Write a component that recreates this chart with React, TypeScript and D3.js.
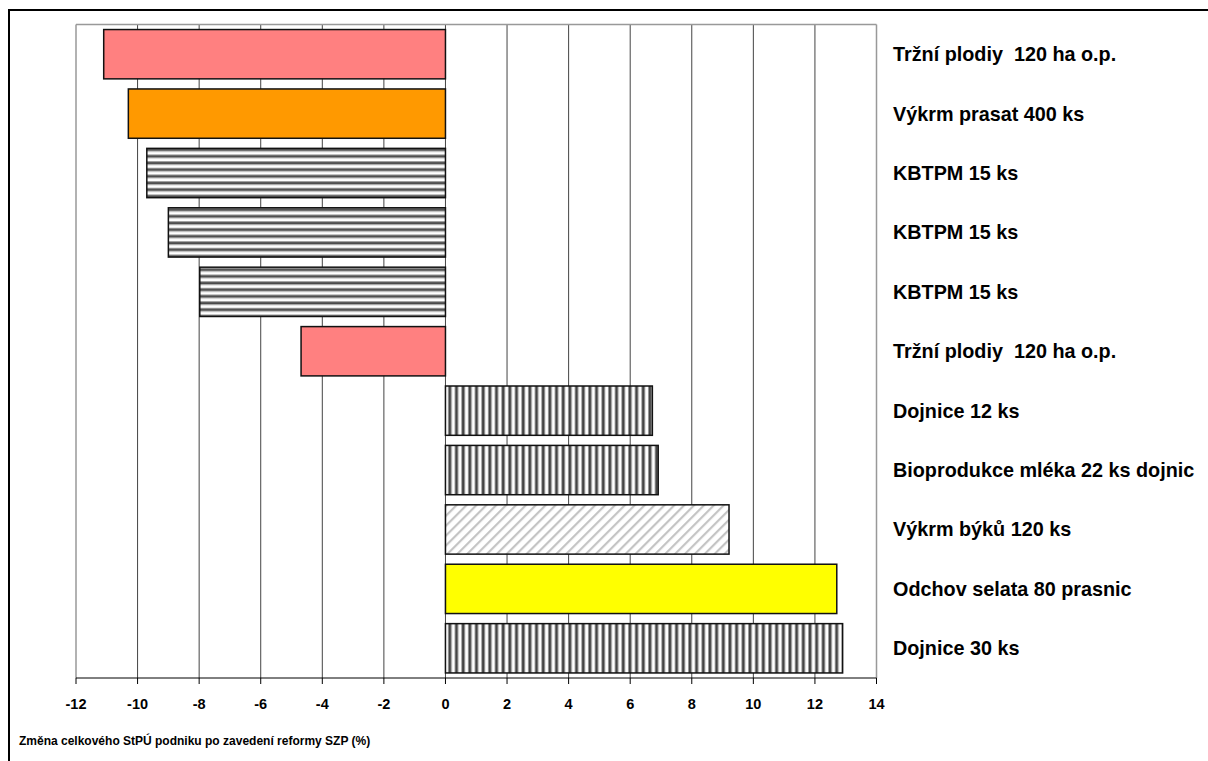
import React from "react";
import * as d3 from "d3";

const categories = [
  "Tržní plodiy  120 ha o.p.",
  "Výkrm prasat 400 ks",
  "KBTPM 15 ks",
  "KBTPM 15 ks",
  "KBTPM 15 ks",
  "Tržní plodiy  120 ha o.p.",
  "Dojnice 12 ks",
  "Bioprodukce mléka 22 ks dojnic",
  "Výkrm býků 120 ks",
  "Odchov selata 80 prasnic",
  "Dojnice 30 ks",
];
const values = [-11.1, -10.3, -9.7, -9.0, -7.98, -4.69, 6.72, 6.91, 9.21, 12.71, 12.9];
const fills = [
  "#FF8080",
  "#FF9900",
  "url(#hstripe)",
  "url(#hstripe)",
  "url(#hstripe)",
  "#FF8080",
  "url(#vstripe)",
  "url(#vstripe)",
  "url(#diag)",
  "#FFFF00",
  "url(#vstripe)",
];
const xTicks = [-12, -10, -8, -6, -4, -2, 0, 2, 4, 6, 8, 10, 12, 14];
const axisTitle = "Změna celkového StPÚ podniku po zavedení reformy SZP (%)";

export default function App() {
  const W = 1208;
  const H = 761;
  const left = 76;
  const right = 876.5;
  const top = 24.5;
  const bottom = 678;
  const x = d3.scaleLinear().domain([-12, 14]).range([left, right]);
  const y = d3
    .scaleBand<number>()
    .domain(d3.range(categories.length))
    .range([top, bottom])
    .paddingInner(0.17)
    .paddingOuter(0.085);
  const font = "'Liberation Sans', Arial, sans-serif";
  return (
    <svg
      width={W}
      height={H}
      style={{ position: "absolute", left: 0, top: 0, background: "#fff" }}
      fontFamily={font}
    >
      <defs>
        <pattern id="hstripe" patternUnits="userSpaceOnUse" width={8} height={6.67}>
          <rect width={8} height={6.67} fill="#fff" />
          <rect y={1} width={8} height={1} fill="#999" />
          <rect y={2} width={8} height={2.2} fill="#4a4a4a" />
          <rect y={4.2} width={8} height={0.8} fill="#999" />
        </pattern>
        <pattern id="vstripe" patternUnits="userSpaceOnUse" width={6.67} height={8}>
          <rect width={6.67} height={8} fill="#fff" />
          <rect x={1} width={0.8} height={8} fill="#999" />
          <rect x={1.8} width={2.6} height={8} fill="#444" />
          <rect x={4.4} width={0.6} height={8} fill="#999" />
        </pattern>
        <pattern
          id="diag"
          patternUnits="userSpaceOnUse"
          width={7}
          height={7}
          patternTransform="rotate(45)"
        >
          <rect width={7} height={7} fill="#fff" />
          <rect x={0} width={2.2} height={7} fill="#c4c4c4" />
        </pattern>
      </defs>

      {/* outer frame */}
      <line x1={9} y1={10} x2={W} y2={10} stroke="#000" strokeWidth={2} />
      <line x1={9} y1={9} x2={9} y2={H} stroke="#000" strokeWidth={2} />

      {/* gridlines */}
      {xTicks.slice(1, -1).map((t) => (
        <line key={"g" + t} x1={x(t)} x2={x(t)} y1={top} y2={bottom} stroke="#444" strokeWidth={1} />
      ))}

      {/* plot border */}
      <line x1={left} x2={right} y1={top} y2={top} stroke="#999" strokeWidth={1.5} />
      <line x1={left} x2={left} y1={top} y2={bottom} stroke="#999" strokeWidth={1.5} />
      <line x1={right} x2={right} y1={top} y2={bottom} stroke="#999" strokeWidth={1.5} />

      {/* bars */}
      {values.map((v, i) => (
        <rect
          key={"b" + i}
          x={Math.min(x(0), x(v))}
          y={y(i)}
          width={Math.abs(x(v) - x(0))}
          height={y.bandwidth()}
          fill={fills[i]}
          stroke="#111"
          strokeWidth={1.5}
        />
      ))}

      {/* x axis */}
      <line x1={left} x2={right} y1={bottom} y2={bottom} stroke="#000" strokeWidth={1} />
      {xTicks.map((t) => (
        <g key={"t" + t}>
          <line x1={x(t)} x2={x(t)} y1={bottom} y2={bottom + 6} stroke="#000" strokeWidth={1} />
          <text
            x={x(t)}
            y={bottom + 31}
            textAnchor="middle"
            fontSize={14.5}
            fontWeight="bold"
            fill="#000"
          >
            {t}
          </text>
        </g>
      ))}

      {/* category labels */}
      {categories.map((c, i) => (
        <text
          key={"c" + i}
          x={893}
          y={(y(i) as number) + y.bandwidth() / 2 + 7}
          fontSize={19.8}
          fontWeight="bold"
          fill="#000"
          style={{ whiteSpace: "pre" }}
        >
          {c}
        </text>
      ))}

      <text x={19} y={745} fontSize={12} fontWeight="bold" fill="#000">
        {axisTitle}
      </text>
    </svg>
  );
}
